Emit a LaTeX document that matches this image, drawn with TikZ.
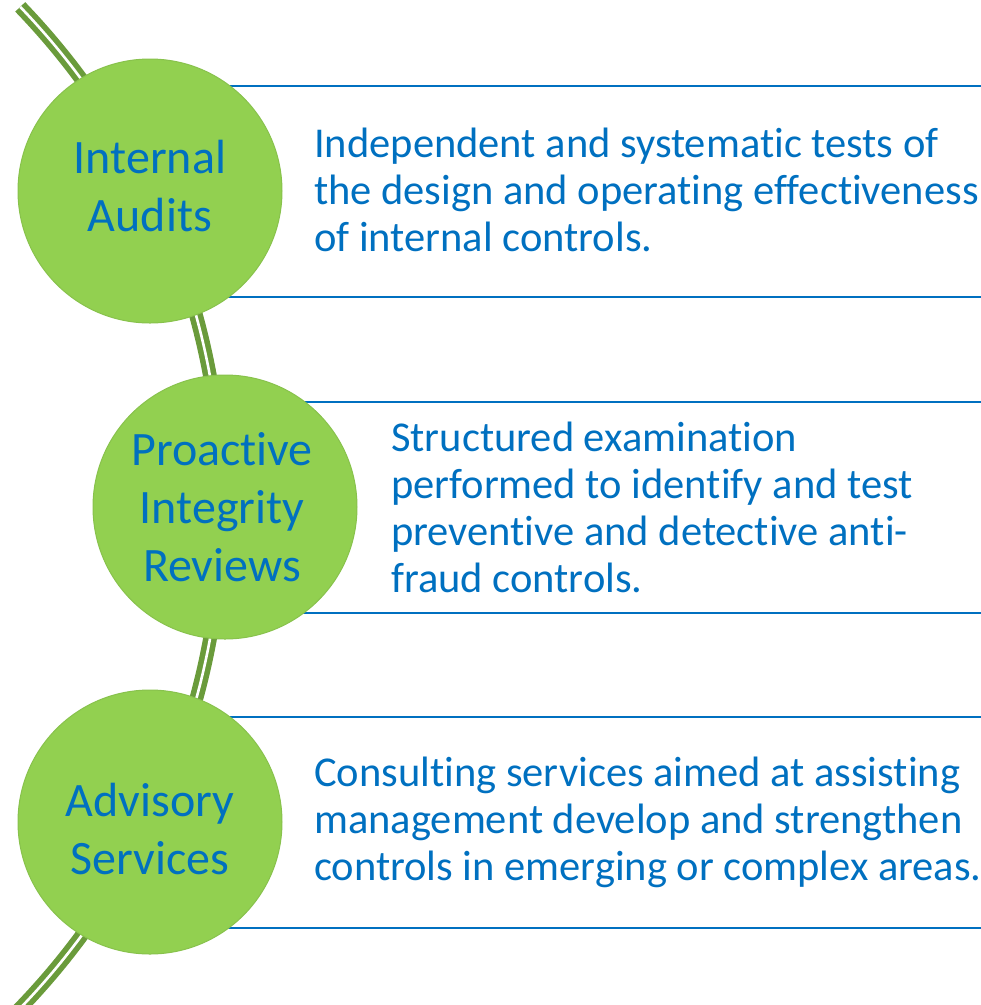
\documentclass[tikz,border=0pt]{standalone}
\usepackage{fontspec}
\setmainfont{Carlito}[RawFeature=-liga]
\usetikzlibrary{backgrounds}
\definecolor{itemgreen}{HTML}{92D050}
\definecolor{ringgreen}{HTML}{88C24C}
\definecolor{stemgreen}{HTML}{6A9B3B}
\definecolor{textblue}{HTML}{0070C0}
\begin{document}
\begin{tikzpicture}[x=1pt,y=-1pt,line join=round]
	\tikzset{
		bubble/.style={circle,fill=itemgreen,draw=ringgreen,line width=1pt,minimum size=264pt,inner sep=0pt},
		title/.style={align=center,text=textblue,inner sep=0pt,font=\fontsize{48}{58}\selectfont},
		blurb/.style={anchor=west,align=left,text=textblue,inner sep=0pt,font=\fontsize{42.5}{47}\selectfont},
		rule/.style={draw=textblue,line width=2.5pt},
		stem/.style={draw=stemgreen,line width=5.6pt,double=white,double distance=2.6pt}
	}
	\useasboundingbox (0,0) rectangle (981,1005);
	\node[bubble] (audit) at (150,191) {};
	\node[bubble] (review) at (225,507) {};
	\node[bubble] (advice) at (150,822) {};
	\node[title] (auditTitle) at (150,186) {Internal\\Audits};
	\node[title] (reviewTitle) at (222,507) {Proactive\\Integrity\\Reviews};
	\node[title] (adviceTitle) at (150,829) {Advisory\\Services};
	\node[blurb] (auditText) at (314,190) {Independent and systematic tests of\\the design and operating effectiveness\\of internal controls.};
	\node[blurb] (reviewText) at (391,507) {Structured examination\\performed to identify and test\\preventive and detective anti-\\fraud controls.};
	\node[blurb] (adviceText) at (314,822) {Consulting services aimed at assisting\\management develop and strengthen\\controls in emerging or complex areas.};
	\begin{scope}[on background layer]
		\draw[stem] (-500,507.5) ++(-43.9:722) arc[start angle=-43.9,end angle=46,radius=722];
		\foreach \b in {audit,review,advice}{
			\draw[rule] (\b.center) ++(0,-105) -- ++(840,0);
			\draw[rule] (\b.center) ++(0,106) -- ++(840,0);
		}
	\end{scope}
\end{tikzpicture}
\end{document}
